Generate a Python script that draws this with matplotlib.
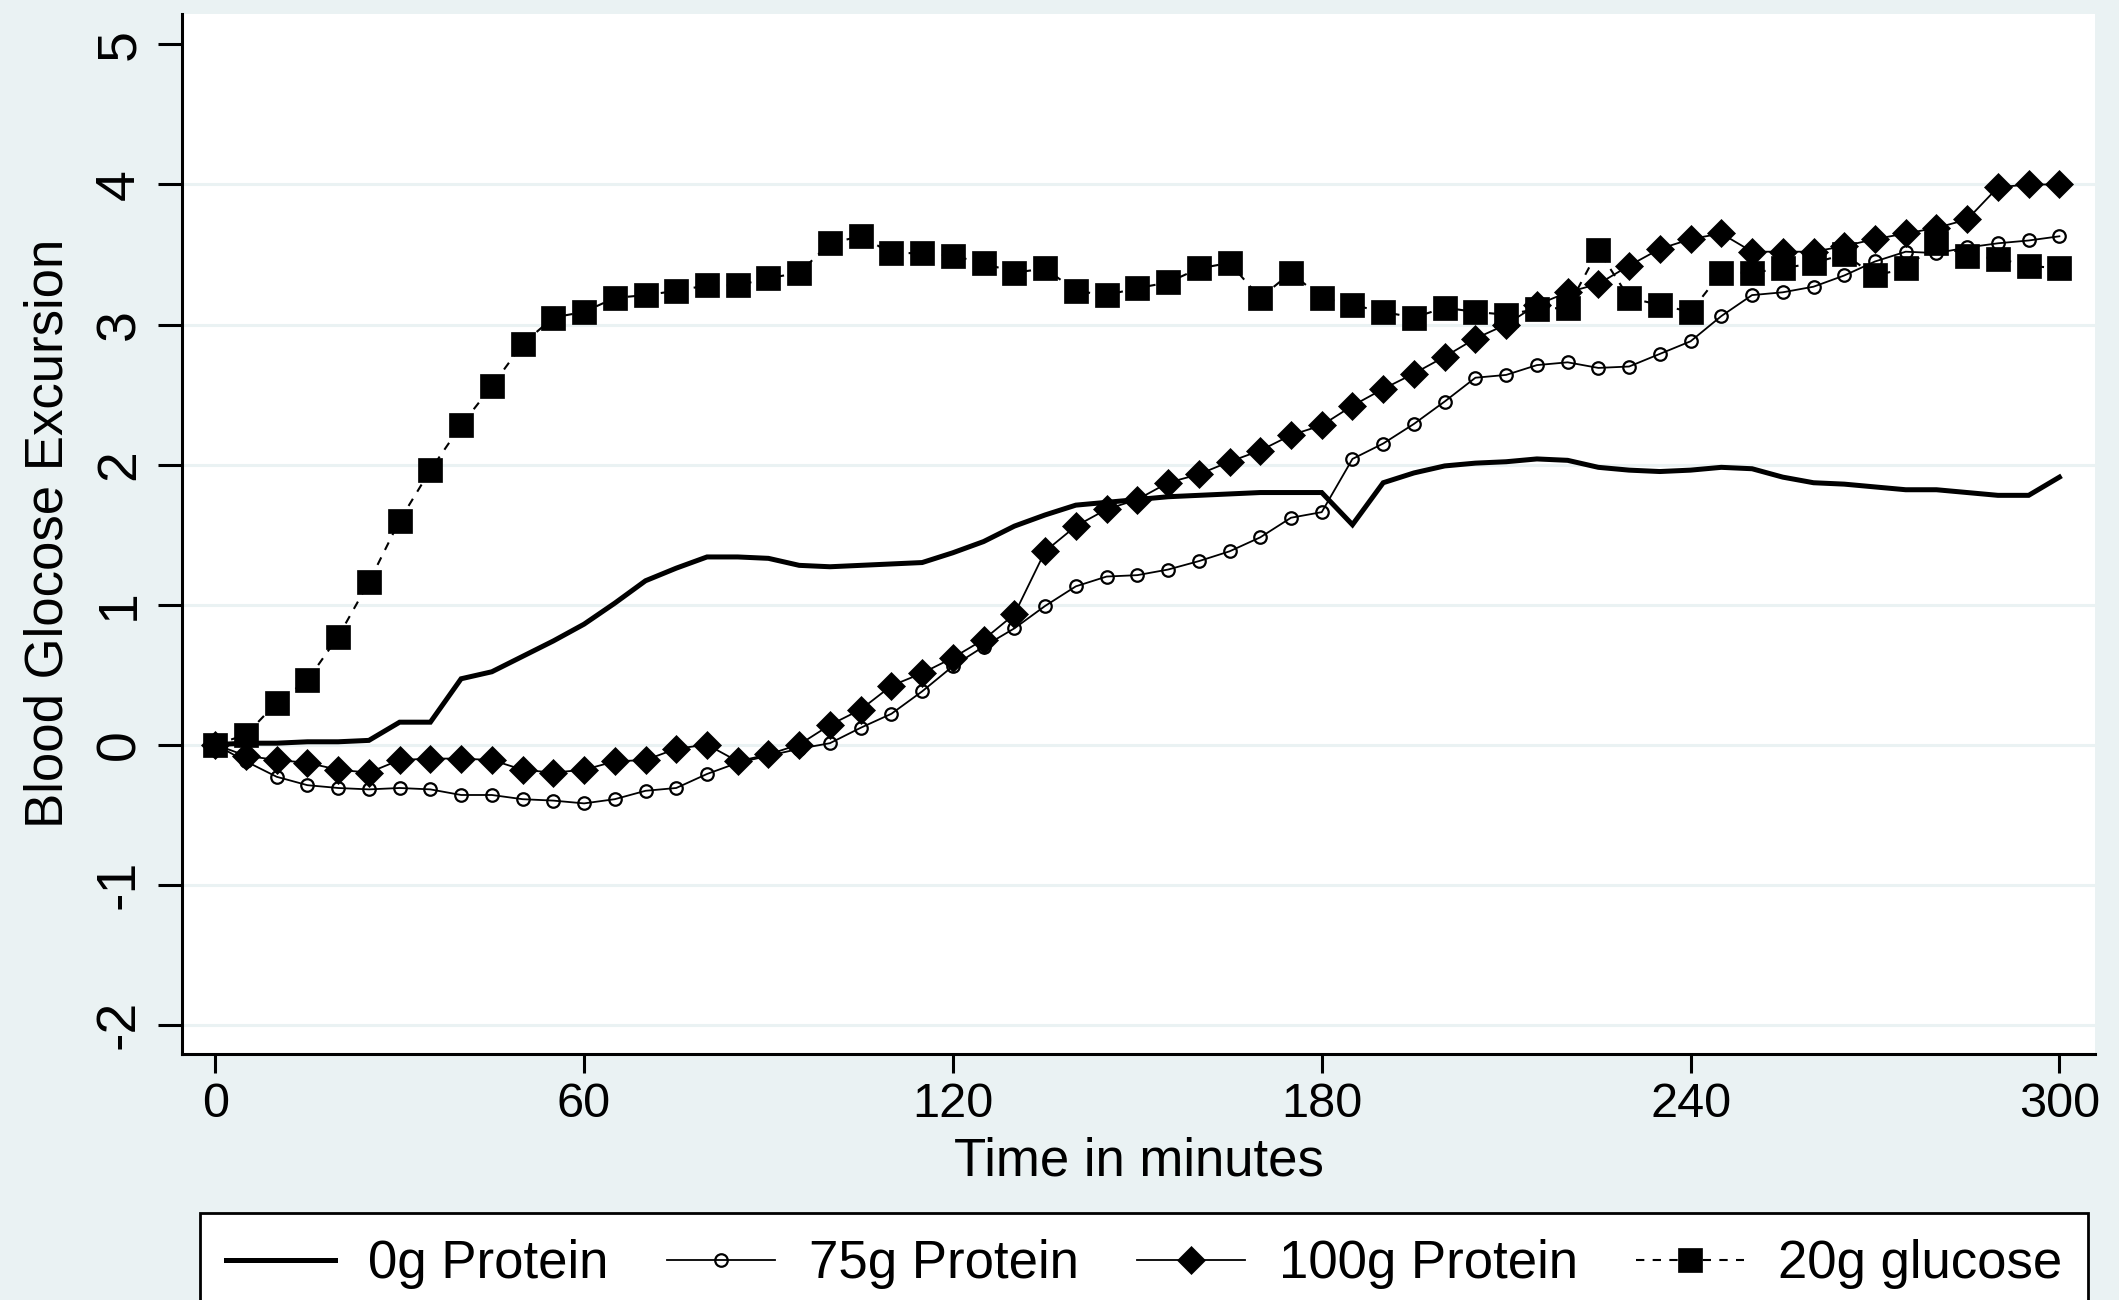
import matplotlib
matplotlib.use("Agg")
import matplotlib.pyplot as plt

plt.rcParams['font.family'] = ['Liberation Sans', 'DejaVu Sans']
plt.rcParams['axes.unicode_minus'] = False

# minutes after the drink
minutes = [0, 5, 10, 15, 20, 25, 30, 35, 40, 45, 50, 55, 60, 65, 70, 75, 80, 85, 90, 95,
           100, 105, 110, 115, 120, 125, 130, 135, 140, 145, 150, 155, 160, 165, 170, 175,
           180, 185, 190, 195, 200, 205, 210, 215, 220, 225, 230, 235, 240, 245, 250, 255,
           260, 265, 270, 275, 280, 285, 290, 295, 300]

protein_0g = [0.00, 0.01, 0.01, 0.02, 0.02, 0.03, 0.16, 0.16, 0.47, 0.52, 0.63, 0.74, 0.86,
              1.01, 1.17, 1.26, 1.34, 1.34, 1.33, 1.28, 1.27, 1.28, 1.29, 1.30, 1.37, 1.45,
              1.56, 1.64, 1.71, 1.73, 1.75, 1.77, 1.78, 1.79, 1.80, 1.80, 1.80, 1.57, 1.87,
              1.94, 1.99, 2.01, 2.02, 2.04, 2.03, 1.98, 1.96, 1.95, 1.96, 1.98, 1.97, 1.91,
              1.87, 1.86, 1.84, 1.82, 1.82, 1.80, 1.78, 1.78, 1.91]

protein_75g = [0.00, -0.12, -0.23, -0.29, -0.31, -0.32, -0.31, -0.32, -0.36, -0.36, -0.39,
               -0.40, -0.42, -0.39, -0.33, -0.31, -0.21, -0.13, -0.08, -0.03, 0.01, 0.12,
               0.22, 0.38, 0.56, 0.70, 0.83, 0.99, 1.13, 1.20, 1.21, 1.25, 1.31, 1.38, 1.48,
               1.62, 1.66, 2.04, 2.15, 2.29, 2.45, 2.62, 2.64, 2.71, 2.73, 2.69, 2.70, 2.79,
               2.88, 3.06, 3.21, 3.23, 3.27, 3.35, 3.45, 3.52, 3.51, 3.55, 3.58, 3.60, 3.63]

protein_100g = [0.00, -0.08, -0.11, -0.13, -0.18, -0.20, -0.11, -0.10, -0.10, -0.11, -0.18,
                -0.20, -0.18, -0.12, -0.11, -0.03, 0.00, -0.12, -0.07, 0.00, 0.14, 0.25,
                0.42, 0.51, 0.62, 0.75, 0.93, 1.38, 1.56, 1.68, 1.75, 1.87, 1.93, 2.02, 2.10,
                2.21, 2.28, 2.42, 2.54, 2.65, 2.77, 2.90, 3.00, 3.14, 3.23, 3.29, 3.42, 3.54,
                3.61, 3.65, 3.52, 3.52, 3.52, 3.56, 3.61, 3.65, 3.69, 3.75, 3.98, 4.00, 4.00]

glucose_20g = [0.00, 0.07, 0.30, 0.46, 0.77, 1.16, 1.60, 1.96, 2.28, 2.56, 2.86, 3.05, 3.09,
               3.19, 3.21, 3.24, 3.28, 3.28, 3.33, 3.37, 3.58, 3.63, 3.51, 3.51, 3.49, 3.44,
               3.37, 3.40, 3.24, 3.21, 3.26, 3.30, 3.40, 3.44, 3.19, 3.37, 3.19, 3.14, 3.09,
               3.05, 3.12, 3.09, 3.07, 3.11, 3.12, 3.53, 3.19, 3.14, 3.09, 3.37, 3.37, 3.40,
               3.44, 3.50, 3.35, 3.40, 3.58, 3.49, 3.47, 3.42, 3.40]

series_labels = ['0g Protein', '75g Protein', '100g Protein', '20g glucose']
x_ticks = [0, 60, 120, 180, 240, 300]
y_ticks = [-2, -1, 0, 1, 2, 3, 4, 5]

bg = '#eaf2f3'

fig = plt.figure(figsize=(21.19, 13.0), dpi=100, facecolor=bg)
ax = fig.add_axes([0.0859, 0.1892, 0.9028, 0.8003])
ax.set_facecolor('white')

l0, = ax.plot(minutes, protein_0g, color='black', lw=3.6, solid_joinstyle='miter')
l75, = ax.plot(minutes, protein_75g, color='black', lw=1.3, marker='o', ms=9,
               mfc='none', mec='black', mew=1.6)
l100, = ax.plot(minutes, protein_100g, color='black', lw=1.3, marker='D', ms=14.5,
                mfc='black', mec='black', mew=0.5)
l20, = ax.plot(minutes, glucose_20g, color='black', lw=1.5, ls=(0, (4, 4)), marker='s',
               ms=17.5, mfc='black', mec='black', mew=0.5)

ax.set_xlim(-5.4, 305.8)
ax.set_ylim(-2.21, 5.22)
ax.set_xticks(x_ticks)
ax.set_yticks(y_ticks)

# horizontal grid only, skipping the top tick
for yv in y_ticks[:-1]:
    ax.axhline(yv, color=bg, lw=2.2, zorder=0)

for side in ['top', 'right']:
    ax.spines[side].set_visible(False)
for side in ['left', 'bottom']:
    ax.spines[side].set_linewidth(2.2)
    ax.spines[side].set_color('black')

ax.tick_params(axis='x', direction='out', length=14, width=2.2, pad=6, labelsize=35)
ax.tick_params(axis='y', direction='out', length=17, width=2.2, pad=9, labelsize=40)
for lab in ax.get_yticklabels():
    lab.set_rotation(90)
    lab.set_va('center')

ax.set_xlabel('Time in minutes', fontsize=38, va='center')
ax.xaxis.set_label_coords(0.5, -0.103)
ax.set_ylabel('Blood Glocose Excursion', fontsize=38, va='center')
ax.yaxis.set_label_coords(-0.070, 0.5)

leg = ax.legend([l0, l75, l100, l20], series_labels, ncol=4, fontsize=38,
                loc='upper left', bbox_to_anchor=(200 / 2119, 1 - 1213 / 1300),
                bbox_transform=fig.transFigure, frameon=True, fancybox=False,
                edgecolor='black', facecolor='white', framealpha=1,
                handlelength=2.05, handletextpad=0.64, columnspacing=1.1,
                borderpad=0.5, borderaxespad=0)
leg.get_frame().set_linewidth(2.0)

fig.savefig('out.png', dpi=100, facecolor=bg)
